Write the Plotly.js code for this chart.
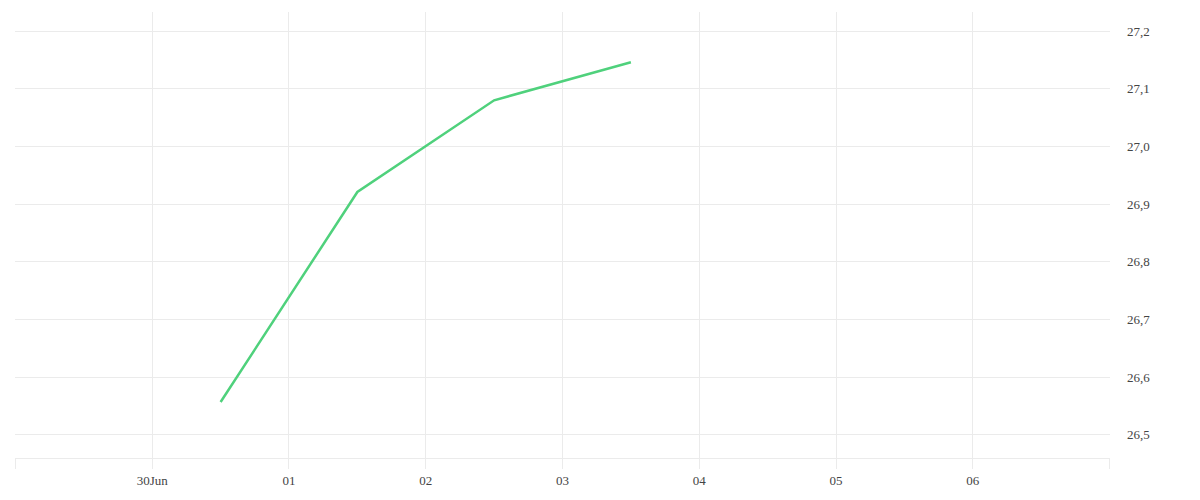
<!DOCTYPE html>
<html>
<head>
<meta charset="utf-8">
<script src="https://cdn.plot.ly/plotly-3.0.1.min.js"></script>
<style>html,body{margin:0;padding:0;background:#fff;}#chart{width:1200px;height:500px;}</style>
</head>
<body>
<div id="chart"></div>
<script>
const dates = ["2024-06-30 12:00", "2024-07-01 12:00", "2024-07-02 12:00", "2024-07-03 12:00"];
const values = [26.557, 26.921, 27.080, 27.146];
const tickDates = ["2024-06-29", "2024-06-30", "2024-07-01", "2024-07-02", "2024-07-03", "2024-07-04", "2024-07-05", "2024-07-06", "2024-07-07"];
const tickLabels = ["", "30Jun", "01", "02", "03", "04", "05", "06", ""];
const yTicks = [26.5, 26.6, 26.7, 26.8, 26.9, 27.0, 27.1, 27.2];
const yLabels = ["26,5", "26,6", "26,7", "26,8", "26,9", "27,0", "27,1", "27,2"];

const gridColor = "#ebebeb";
Plotly.newPlot("chart", [{
  x: dates,
  y: values,
  type: "scatter",
  mode: "lines",
  line: {color: "#4fd17c", width: 2.5},
  hoverinfo: "x+y"
}], {
  width: 1200,
  height: 500,
  margin: {l: 15, r: 90, t: 12, b: 42},
  paper_bgcolor: "#fff",
  plot_bgcolor: "#fff",
  showlegend: false,
  font: {family: "'Liberation Serif', 'Times New Roman', serif", size: 13, color: "#444444"},
  xaxis: {
    type: "date",
    range: ["2024-06-28 23:55", "2024-07-07 00:05"],
    tickmode: "array",
    tickvals: tickDates,
    ticktext: tickLabels,
    tickfont: {family: "'Liberation Serif', 'Times New Roman', serif", size: 13, color: "#444444"},
    showgrid: true,
    gridcolor: gridColor,
    gridwidth: 1,
    ticks: "outside",
    ticklen: 10,
    tickcolor: gridColor,
    showline: true,
    linecolor: gridColor,
    linewidth: 1,
    zeroline: false
  },
  yaxis: {
    side: "right",
    range: [26.46, 27.233],
    tickmode: "array",
    tickvals: yTicks,
    ticktext: yLabels,
    tickfont: {family: "'Liberation Serif', 'Times New Roman', serif", size: 13, color: "#444444"},
    showgrid: true,
    gridcolor: gridColor,
    gridwidth: 1,
    zeroline: false,
    showline: false,
    ticks: "",
    ticklabelstandoff: 16
  }
}, {displayModeBar: false, staticPlot: true});
</script>
</body>
</html>
